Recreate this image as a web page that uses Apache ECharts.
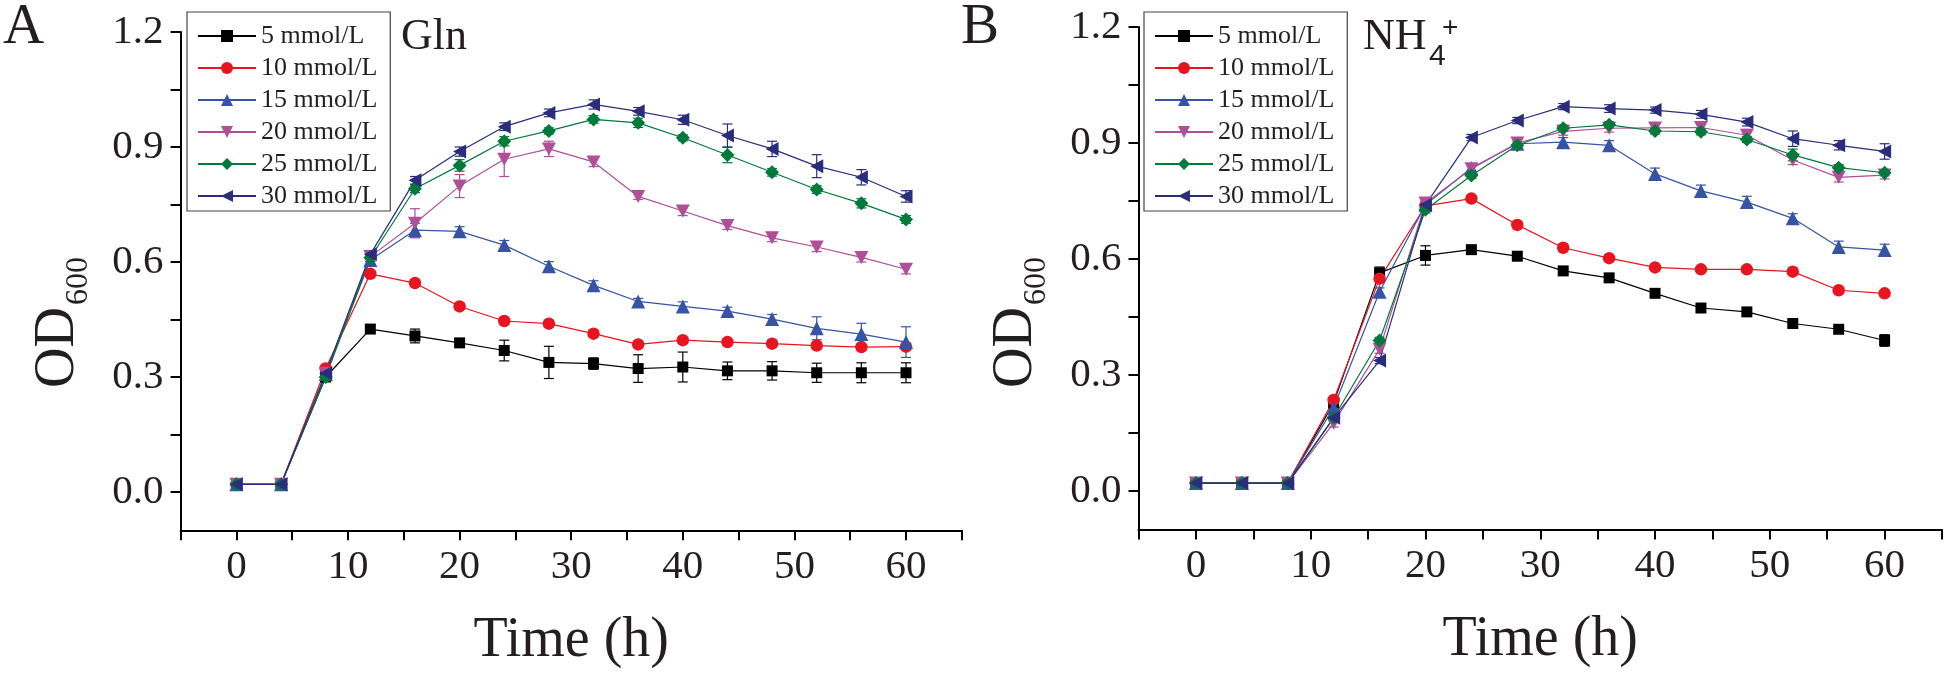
<!DOCTYPE html>
<html><head><meta charset="utf-8">
<script src="https://cdn.jsdelivr.net/npm/echarts@6/dist/echarts.min.js"></script>
<style>html,body{margin:0;padding:0;background:#fff}#c{width:1946px;height:676px}</style>
</head><body><div id="c"></div>
<script>
// ---------- data ----------
const times = [0,4,8,12,16,20,24,28,32,36,40,44,48,52,56,60];
const names = ['5 mmol/L','10 mmol/L','15 mmol/L','20 mmol/L','25 mmol/L','30 mmol/L'];
const xTickLabels = [0,10,20,30,40,50,60];
const yTickValues = [0,0.15,0.3,0.45,0.6,0.75,0.9,1.05,1.2];
const yTickLabels = [0,0.3,0.6,0.9,1.2];

// Panel A: Gln
const gln5  = [0.02,0.02,0.300,0.425,0.407,0.389,0.369,0.338,0.335,0.322,0.326,0.316,0.316,0.311,0.311,0.311];
const gln10 = [0.02,0.02,0.322,0.569,0.545,0.484,0.446,0.439,0.413,0.385,0.396,0.391,0.387,0.382,0.378,0.379];
const gln15 = [0.02,0.02,0.308,0.605,0.683,0.680,0.644,0.589,0.539,0.497,0.484,0.472,0.451,0.427,0.412,0.391];
const gln20 = [0.02,0.02,0.310,0.614,0.701,0.798,0.868,0.895,0.861,0.771,0.733,0.695,0.663,0.639,0.612,0.581];
const gln25 = [0.02,0.02,0.300,0.611,0.791,0.852,0.915,0.942,0.972,0.963,0.924,0.879,0.834,0.789,0.753,0.711];
const gln30 = [0.02,0.02,0.310,0.620,0.813,0.888,0.953,0.989,1.011,0.993,0.971,0.930,0.895,0.850,0.821,0.771];
const glnErr5  = [0.005,0.005,0.010,0.008,0.018,0.008,0.027,0.042,0.015,0.036,0.039,0.023,0.024,0.025,0.026,0.026];
const glnErr10 = [0.005,0.005,0.010,0.008,0.008,0.008,0.008,0.008,0.008,0.008,0.008,0.008,0.008,0.008,0.008,0.008];
const glnErr15 = [0.005,0.005,0.010,0.012,0.018,0.012,0.012,0.012,0.012,0.008,0.012,0.010,0.012,0.030,0.028,0.040];
const glnErr20 = [0.005,0.005,0.010,0.012,0.038,0.030,0.045,0.020,0.012,0.008,0.012,0.010,0.010,0.012,0.012,0.012];
const glnErr25 = [0.005,0.005,0.010,0.010,0.010,0.015,0.012,0.008,0.010,0.012,0.008,0.020,0.010,0.010,0.012,0.010];
const glnErr30 = [0.005,0.005,0.010,0.010,0.010,0.012,0.010,0.010,0.012,0.010,0.012,0.030,0.020,0.030,0.020,0.015];

// Panel B: NH4+
const nh5  = [0.02,0.02,0.02,0.227,0.564,0.609,0.624,0.607,0.569,0.551,0.511,0.473,0.463,0.433,0.418,0.389];
const nh10 = [0.02,0.02,0.02,0.235,0.549,0.737,0.756,0.688,0.629,0.602,0.578,0.573,0.573,0.567,0.519,0.511];
const nh15 = [0.02,0.02,0.02,0.215,0.515,0.740,0.835,0.898,0.902,0.894,0.820,0.776,0.747,0.705,0.631,0.623];
const nh20 = [0.02,0.02,0.02,0.175,0.366,0.745,0.833,0.900,0.930,0.938,0.939,0.940,0.920,0.856,0.811,0.817];
const nh25 = [0.02,0.02,0.02,0.189,0.389,0.727,0.816,0.894,0.938,0.947,0.931,0.929,0.909,0.869,0.836,0.823];
const nh30 = [0.02,0.02,0.02,0.189,0.337,0.740,0.914,0.958,0.994,0.989,0.985,0.974,0.954,0.911,0.894,0.878];
const nhErr5  = [0.005,0.005,0.005,0.008,0.015,0.025,0.010,0.010,0.008,0.008,0.008,0.008,0.008,0.008,0.008,0.015];
const nhErr10 = [0.005,0.005,0.005,0.006,0.006,0.006,0.006,0.006,0.006,0.006,0.006,0.006,0.006,0.006,0.006,0.006];
const nhErr15 = [0.005,0.005,0.005,0.010,0.010,0.010,0.010,0.010,0.012,0.012,0.015,0.015,0.015,0.012,0.015,0.015];
const nhErr20 = [0.005,0.005,0.005,0.010,0.010,0.010,0.012,0.010,0.010,0.010,0.010,0.010,0.015,0.012,0.012,0.010];
const nhErr25 = [0.005,0.005,0.005,0.008,0.008,0.008,0.008,0.008,0.008,0.008,0.008,0.008,0.008,0.015,0.008,0.008];
const nhErr30 = [0.005,0.005,0.005,0.008,0.008,0.008,0.008,0.008,0.008,0.010,0.008,0.010,0.010,0.020,0.012,0.020];

const panelA = [gln5, gln10, gln15, gln20, gln25, gln30];
const panelAErr = [glnErr5, glnErr10, glnErr15, glnErr20, glnErr25, glnErr30];
const panelB = [nh5, nh10, nh15, nh20, nh25, nh30];
const panelBErr = [nhErr5, nhErr10, nhErr15, nhErr20, nhErr25, nhErr30];

// ---------- styles ----------
const FONT = '"Liberation Serif", "Times New Roman", serif';
const SANS = '"Liberation Sans", Arial, sans-serif';
const TXT = '#231f20';
const looks = [
  {color:'#000000', symbol:'rect', size:11},
  {color:'#E8141F', symbol:'circle', size:12.5},
  {color:'#3753A4', symbol:'triangle', size:14},
  {color:'#B04E97', symbol:'path://M0,0L10,0L5,9Z', size:[14,13]},
  {color:'#007A3A', symbol:'diamond', size:14},
  {color:'#2A2C7C', symbol:'path://M0,5L9,0L9,10Z', size:[13,14]}
];

function errRender(color){
  return function(params, api){
    const x = api.value(0);
    const p1 = api.coord([x, api.value(1)]);
    const p2 = api.coord([x, api.value(2)]);
    const hw = 5;
    const st = {stroke: color, lineWidth: 1.2};
    return {type:'group', children:[
      {type:'line', shape:{x1:p1[0], y1:p1[1], x2:p2[0], y2:p2[1]}, style:st},
      {type:'line', shape:{x1:p1[0]-hw, y1:p1[1], x2:p1[0]+hw, y2:p1[1]}, style:st},
      {type:'line', shape:{x1:p2[0]-hw, y1:p2[1], x2:p2[0]+hw, y2:p2[1]}, style:st}
    ]};
  };
}

const series = [];
function addPanel(idx, vals, errs){
  vals.forEach((v, s) => {
    const lk = looks[s];
    series.push({
      type:'custom', name: names[s] + ' SD', xAxisIndex: idx, yAxisIndex: idx,
      renderItem: errRender(lk.color), silent: true, z: 1,
      encode: {x: 0, y: [1, 2]},
      data: times.map((t, i) => [t, v[i] - errs[s][i], v[i] + errs[s][i]])
    });
  });
  vals.forEach((v, s) => {
    const lk = looks[s];
    series.push({
      type:'line', name: names[s], xAxisIndex: idx, yAxisIndex: idx,
      data: times.map((t, i) => [t, v[i]]),
      symbol: lk.symbol, symbolSize: lk.size, showAllSymbol: true,
      lineStyle: {color: lk.color, width: 1.2},
      itemStyle: {color: lk.color},
      z: 3
    });
  });
}
addPanel(0, panelA, panelAErr);
addPanel(1, panelB, panelBErr);

function xAxis(g){
  return {
    type:'value', gridIndex:g, min:-5, max:65, interval:5,
    axisLine:{show:true, onZero:false, lineStyle:{color:'#000', width:2}},
    axisTick:{show:true, length:10, lineStyle:{color:'#000', width:2}},
    axisLabel:{margin:16, fontSize:41, fontFamily:FONT, color:TXT,
      formatter: v => xTickLabels.some(t => Math.abs(t - v) < 1e-6) ? String(Math.round(v)) : ''},
    splitLine:{show:false},
    name:'Time (h)', nameLocation:'middle', nameGap:83,
    nameTextStyle:{fontSize:56, fontFamily:FONT, color:TXT}
  };
}
function yAxis(g){
  return {
    type:'value', gridIndex:g, min:-0.1, max:1.2,
    axisLine:{show:true, onZero:false, lineStyle:{color:'#000', width:2}},
    axisTick:{show:true, length:10, customValues: yTickValues, lineStyle:{color:'#000', width:2}},
    axisLabel:{show:true, margin:17, fontSize:41, fontFamily:FONT, color:TXT,
      customValues: yTickLabels, formatter: v => v.toFixed(1)},
    splitLine:{show:false}
  };
}
function legend(left){
  return {
    data: names, orient:'vertical', left: left, top: 12,
    itemWidth: 58, itemHeight: 15, itemGap: 6,
    padding: [11, 13, 2, 10],
    borderColor: '#444', borderWidth: 1.2,
    textStyle: {fontSize: 26, fontFamily: FONT, color: TXT, lineHeight: 26}
  };
}
function odLabel(ox){
  return {type:'group', x: ox, y: 388, rotation: Math.PI/2, children:[
    {type:'text', x: 0, y: 58, style:{text:'OD', fontSize:56, fontFamily:FONT, fill:TXT, align:'left', verticalAlign:'middle'}},
    {type:'text', x: 83, y: 79, style:{text:'600', fontSize:32, fontFamily:FONT, fill:TXT, align:'left', verticalAlign:'middle'}}
  ]};
}
function txt(x, y, s, size, fam){
  return {type:'text', x: x, y: y, style:{text:s, fontSize:size, fontFamily:fam || FONT, fill:TXT, align:'left', verticalAlign:'middle'}};
}

const option = {
  animation: false,
  backgroundColor: '#fff',
  grid: [
    {left: 180.6, top: 32, width: 781.2, height: 498.3},
    {left: 1138.5, top: 27, width: 803.5, height: 502.5}
  ],
  xAxis: [xAxis(0), xAxis(1)],
  yAxis: [yAxis(0), yAxis(1)],
  legend: [legend(187), legend(1144)],
  graphic: [
    txt(3, 28, 'A', 57),
    txt(961, 28, 'B', 57),
    txt(401, 37, 'Gln', 44),
    txt(1363, 37, 'NH', 44),
    txt(1429, 57, '4', 30, SANS),
    txt(1442, 28, '+', 28, SANS),
    odLabel(0),
    odLabel(957.9)
  ],
  series: series
};
const chart = echarts.init(document.getElementById('c'), null, {renderer:'canvas'});
chart.setOption(option);
</script>
</body></html>
